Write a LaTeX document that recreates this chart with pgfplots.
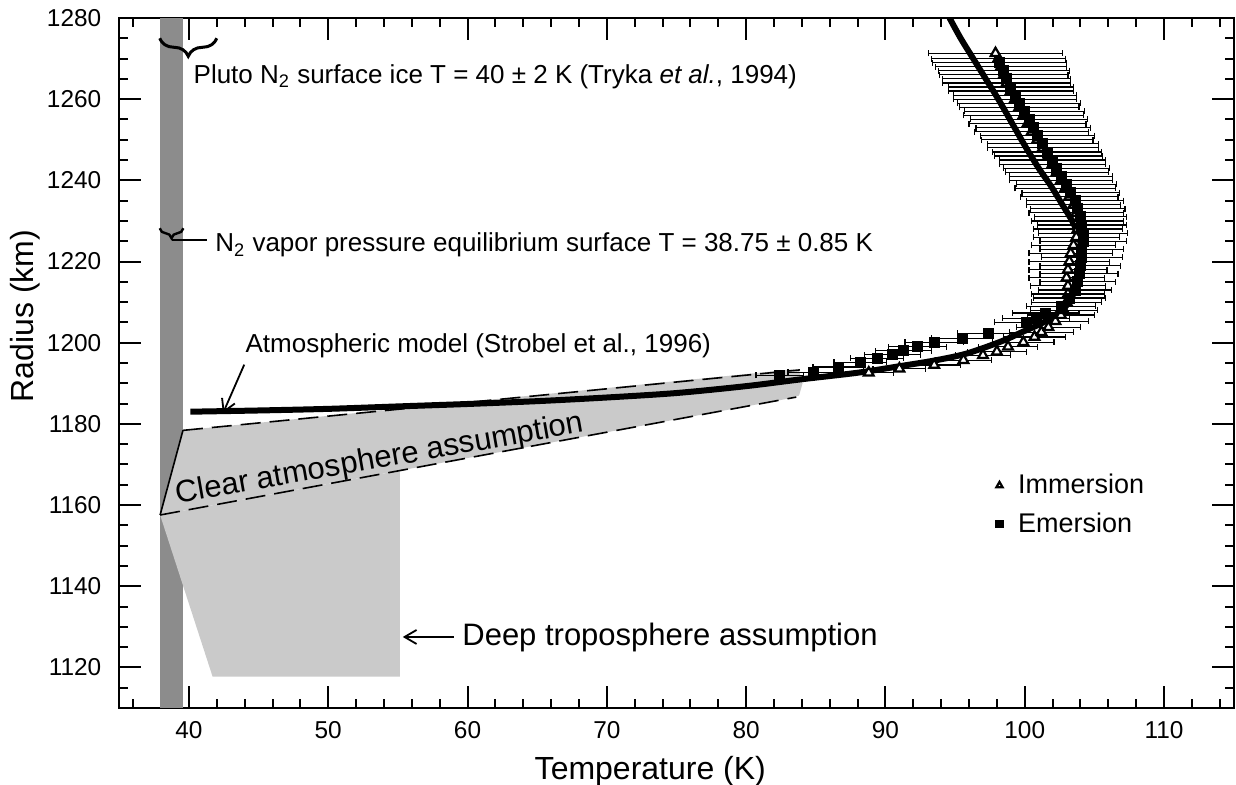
\documentclass[border=0pt]{standalone}
\usepackage{fontspec}
\setmainfont{Liberation Sans}
\usepackage{pgfplots}
\pgfplotsset{compat=1.18}
\usetikzlibrary{decorations.pathreplacing,arrows.meta}
\definecolor{bandgray}{RGB}{140,140,140}
\definecolor{lightfill}{RGB}{202,202,202}
\begin{document}
\begin{tikzpicture}
\begin{axis}[
  scale only axis, width=557.2pt, height=345pt,
  xmin=35, xmax=115, ymin=1110, ymax=1280,
  xtick={40,50,...,110}, minor xtick={36,38,...,114},
  ytick={1120,1140,...,1280}, minor ytick={1110,1115,...,1280},
  tick align=inside, xtick pos=both, ytick pos=both,
  xticklabel pos=bottom, yticklabel pos=left,
  major tick length=11pt, minor tick length=4.3pt,
  major tick style={line width=1pt, black},
  minor tick style={line width=1pt, black},
  axis line style={line width=1pt},
  tick label style={font=\fontsize{12.2}{14}\selectfont},
  /pgf/number format/assume math mode=true,
  /pgf/number format/1000 sep={},
  scaled ticks=false,
  xticklabel style={yshift=-3.3pt},
  yticklabel style={xshift=-5.5pt},
  xlabel={Temperature (K)}, ylabel={Radius (km)},
  label style={font=\fontsize{16}{19}\selectfont},
  xlabel style={at={(axis description cs:0.4765,-0.1029)}, anchor=base},
  ylabel style={at={(axis description cs:-0.0774,0.568)}, anchor=base},
  legend style={at={(rel axis cs:0.7684,0.351)}, anchor=north west, draw=none, fill=none,
    font=\fontsize{13.5}{15}\selectfont, row sep=4pt},
  legend cell align=left,
  legend image code/.code={\path (0cm,0cm) (0.55cm,0cm); \draw[#1, mark size=1.8pt] plot coordinates {(0.3cm,0cm)};},
]
\coordinate (sw) at (rel axis cs:0,0);
\coordinate (ne) at (rel axis cs:1,1);
% dark band (N2 vapor equilibrium)
\addplot[fill=bandgray, draw=none, forget plot] coordinates {(37.9,1110) (39.6,1110) (39.6,1280) (37.9,1280)} -- cycle;
% deep troposphere region
\addplot[fill=lightfill, draw=none, forget plot] coordinates {(37.93,1157.55) (41.7,1117.7) (55.15,1117.7) (55.15,1168.5)} -- cycle;
% clear atmosphere region
\addplot[fill=lightfill, draw=none, forget plot] coordinates {(37.93,1157.55) (39.57,1178.4) (83.3,1193.4) (83.8,1193.0) (84.05,1190) (83.8,1187.0) (83.3,1186.4)} -- cycle;
\addplot[black, line width=0.8pt, dash pattern=on 10pt off 4.5pt, forget plot] coordinates {(39.57,1178.4) (83.86,1193.3)};
\addplot[black, line width=0.8pt, dash pattern=on 10pt off 4.5pt, forget plot] coordinates {(37.93,1157.55) (83.6,1186.6)};
\addplot[black, line width=0.8pt, forget plot] coordinates {(37.93,1157.55) (39.57,1178.4)};
% atmospheric model
\addplot[black, line width=3pt, smooth, forget plot] coordinates {
(40.1,1183.0) (45,1183.3) (50,1183.7) (55,1184.3) (60,1184.9) (65,1185.6) (70,1186.5) (75,1187.6) (80,1189.3) (84,1191.0) (88,1192.6) (91,1194.2) (93.5,1195.6) (95.8,1197.3) (98.3,1200.3) (99.8,1202.6) (101.5,1205.3) (102.9,1208.8) (103.7,1213.5) (104.0,1218) (104.1,1222) (103.9,1226) (103.4,1230) (102.7,1234) (101.9,1238.5) (101.0,1243) (100.1,1248) (99.1,1254) (98.1,1260) (97.2,1265) (96.3,1270) (95.4,1275) (94.6,1280)};
% Immersion
\addplot[only marks, mark=triangle*, mark size=2.8pt, mark options={fill=white, draw=black, line width=1.1pt},
  error bars/.cd, x dir=both, x explicit, error bar style={line width=0.6pt, black},
  error mark options={rotate=90, mark size=1.5pt, line width=0.6pt, black}] coordinates {
(88.8,1192.6) +- (1.8,0)
(91.0,1193.6) +- (1.9,0)
(93.5,1194.5) +- (1.9,0)
(95.6,1195.7) +- (2.0,0)
(97.0,1196.9) +- (2.0,0)
(98.0,1197.8) +- (2.1,0)
(98.8,1199.0) +- (2.1,0)
(99.9,1200.1) +- (2.2,0)
(100.7,1201.4) +- (2.2,0)
(101.2,1202.6) +- (2.3,0)
(101.7,1203.8) +- (2.3,0)
(102.2,1205.3) +- (2.4,0)
(102.6,1206.8) +- (2.4,0)
(102.8,1208) +- (2.4,0)
(103.0,1210) +- (2.5,0)
(103.1,1212) +- (2.6,0)
(103.1,1214) +- (2.7,0)
(103.0,1216) +- (2.7,0)
(103.1,1218) +- (2.8,0)
(103.2,1220) +- (2.9,0)
(103.3,1222) +- (3.0,0)
(103.5,1224) +- (3.0,0)
(103.7,1226) +- (3.1,0)
(103.8,1228) +- (3.2,0)
(103.8,1230) +- (3.3,0)
(103.7,1232) +- (3.4,0)
(103.5,1234) +- (3.4,0)
(103.2,1236) +- (3.5,0)
(102.9,1238) +- (3.6,0)
(102.6,1240) +- (3.7,0)
(102.3,1242) +- (3.7,0)
(102.0,1244) +- (3.8,0)
(101.7,1246) +- (3.9,0)
(101.3,1248) +- (4.0,0)
(100.9,1250) +- (4.0,0)
(100.5,1252) +- (4.1,0)
(100.2,1254) +- (4.2,0)
(99.9,1256) +- (4.3,0)
(99.6,1258) +- (4.3,0)
(99.3,1260) +- (4.4,0)
(99.0,1262) +- (4.5,0)
(98.7,1264) +- (4.6,0)
(98.5,1266) +- (4.6,0)
(98.3,1268) +- (4.7,0)
(98.1,1270) +- (4.8,0)
(97.9,1271.3) +- (4.8,0)
};
\addlegendentry{Immersion}
% Emersion
\addplot[only marks, mark=square*, mark size=2.5pt, mark options={fill=black, draw=black},
  error bars/.cd, x dir=both, x explicit, error bar style={line width=0.6pt, black},
  error mark options={rotate=90, mark size=1.5pt, line width=0.6pt, black}] coordinates {
(82.4,1192.0) +- (1.7,0)
(84.8,1192.7) +- (1.8,0)
(86.6,1194.0) +- (1.8,0)
(88.2,1195.2) +- (1.9,0)
(89.4,1196.2) +- (1.9,0)
(90.5,1197.0) +- (2.0,0)
(91.3,1198.0) +- (2.0,0)
(92.3,1199.0) +- (2.1,0)
(93.5,1200.1) +- (2.1,0)
(95.5,1201.1) +- (2.2,0)
(97.4,1202.3) +- (2.2,0)
(100.1,1205.0) +- (2.3,0)
(100.8,1206.0) +- (2.4,0)
(101.5,1207.3) +- (2.4,0)
(102.6,1209) +- (2.5,0)
(103.2,1211) +- (2.6,0)
(103.6,1213) +- (2.6,0)
(103.8,1215) +- (2.7,0)
(103.9,1217) +- (2.8,0)
(104.0,1219) +- (2.9,0)
(104.1,1221) +- (2.9,0)
(104.1,1223) +- (3.0,0)
(104.2,1225) +- (3.1,0)
(104.2,1227) +- (3.2,0)
(104.1,1229) +- (3.2,0)
(104.0,1231) +- (3.3,0)
(103.8,1233) +- (3.4,0)
(103.6,1235) +- (3.5,0)
(103.3,1237) +- (3.5,0)
(103.0,1239) +- (3.6,0)
(102.6,1241) +- (3.7,0)
(102.3,1243) +- (3.8,0)
(102.0,1245) +- (3.8,0)
(101.6,1247) +- (3.9,0)
(101.3,1249) +- (4.0,0)
(100.9,1251) +- (4.1,0)
(100.6,1253) +- (4.1,0)
(100.3,1255) +- (4.2,0)
(100.0,1257) +- (4.3,0)
(99.6,1259) +- (4.4,0)
(99.3,1261) +- (4.4,0)
(99.0,1263) +- (4.5,0)
(98.7,1265) +- (4.6,0)
(98.5,1267) +- (4.7,0)
(98.2,1269) +- (4.8,0)
};
\addlegendentry{Emersion}
% annotations
\draw[line width=1.5pt, decorate, decoration={brace, mirror, amplitude=9pt}] (axis cs:37.9,1275) -- (axis cs:42,1275);
\node[anchor=base west, inner sep=0pt, font=\fontsize{13}{15}\selectfont] at (axis cs:40.31,1263.9) {Pluto N\textsubscript{2} surface ice T = 40 ± 2 K (Tryka \textit{et al.}, 1994)};
\draw[line width=1.2pt, decorate, decoration={brace, mirror, amplitude=5pt}] (axis cs:37.9,1228.2) -- (axis cs:39.6,1228.2);
\draw[line width=1pt] (axis cs:38.75,1225.4) -- (axis cs:41.3,1225.4);
\node[anchor=base west, inner sep=0pt, font=\fontsize{13}{15}\selectfont] at (axis cs:41.87,1222.4) {N\textsubscript{2} vapor pressure equilibrium surface T = 38.75 ± 0.85 K};
\node[anchor=base west, inner sep=0pt, font=\fontsize{13}{15}\selectfont] at (axis cs:44.04,1197.5) {Atmospheric model (Strobel et al., 1996)};
\draw[-{Straight Barb[length=6pt,width=7pt]}, line width=0.9pt] (axis cs:43.97,1194.6) -- (axis cs:42.44,1182.6);
\node[rotate=10, inner sep=0pt, font=\fontsize{15.5}{18}\selectfont] at (axis cs:53.7,1171.1) {Clear atmosphere assumption};
\node[anchor=base west, inner sep=0pt, font=\fontsize{15.5}{18}\selectfont] at (axis cs:59.6,1125.3) {Deep troposphere assumption};
\draw[-{Straight Barb[length=6pt,width=7pt]}, line width=0.9pt] (axis cs:59.0,1127.5) -- (axis cs:55.35,1127.5);
\end{axis}
\pgfresetboundingbox
\path[use as bounding box] ([shift={(-59.65pt,-38pt)}]sw) rectangle ([shift={(1.15pt,9pt)}]ne);
\end{tikzpicture}
\end{document}
